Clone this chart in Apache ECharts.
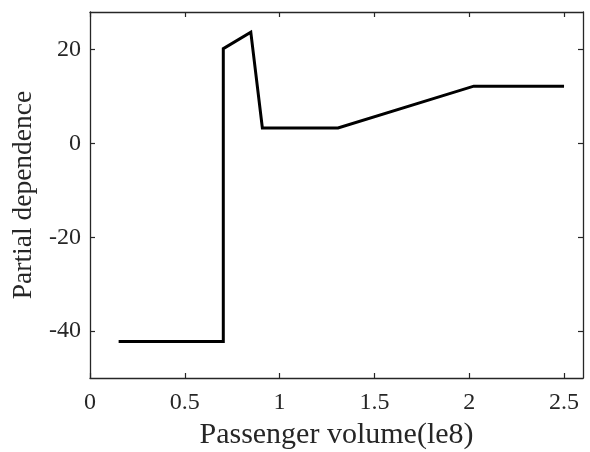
<!DOCTYPE html>
<html><head><meta charset="utf-8">
<script src="https://cdn.jsdelivr.net/npm/echarts@6/dist/echarts.min.js"></script>
<style>html,body{margin:0;padding:0;background:#fff}#c{width:590px;height:452px}</style>
</head><body><div id="c"></div>
<script>
const xValues = [0.151, 0.703, 0.703, 0.848, 0.909, 1.308, 2.024, 2.5];
const yValues = [-42.2, -42.2, 20.2, 23.7, 3.3, 3.3, 12.2, 12.2];
const xTicks = [0, 0.5, 1, 1.5, 2, 2.5];
const yTicks = [-40, -20, 0, 20];
const xTitle = 'Passenger volume(le8)';
const yTitle = 'Partial dependence';

const font = '"Liberation Serif", "Times New Roman", serif';
const chart = echarts.init(document.getElementById('c'), null, {renderer: 'canvas'});
const axLine = {show: true, onZero: false, lineStyle: {color: '#262626', width: 1.3}};
const tick = {show: true, inside: true, length: 5, lineStyle: {color: '#262626', width: 1.2}};
chart.setOption({
  animation: false,
  backgroundColor: '#fff',
  grid: {left: 90, right: 7, top: 12, bottom: 74, containLabel: false, outerBoundsMode: 'none'},
  xAxis: [{
    type: 'value', min: 0, max: 2.6, position: 'bottom',
    axisLine: axLine, axisTick: Object.assign({customValues: xTicks}, tick),
    splitLine: {show: false},
    axisLabel: {customValues: xTicks, color: '#262626', fontFamily: font, fontSize: 24, margin: 13},
    name: xTitle, nameLocation: 'middle', nameGap: 37,
    nameTextStyle: {color: '#262626', fontFamily: font, fontSize: 30}
  }, {
    type: 'value', min: 0, max: 2.6, position: 'top',
    axisLine: axLine, axisTick: Object.assign({customValues: xTicks}, tick),
    splitLine: {show: false}, axisLabel: {show: false}
  }],
  yAxis: [{
    type: 'value', min: -50, max: 28, position: 'left',
    axisLine: axLine, axisTick: Object.assign({customValues: yTicks}, tick),
    splitLine: {show: false},
    axisLabel: {customValues: yTicks, color: '#262626', fontFamily: font, fontSize: 24, margin: 9},
    name: yTitle, nameLocation: 'middle', nameGap: 52,
    nameTextStyle: {color: '#262626', fontFamily: font, fontSize: 27.5}
  }, {
    type: 'value', min: -50, max: 28, position: 'right',
    axisLine: axLine, axisTick: Object.assign({customValues: yTicks}, tick),
    splitLine: {show: false}, axisLabel: {show: false}
  }],
  series: [{
    type: 'line', xAxisIndex: 0, yAxisIndex: 0,
    data: xValues.map((x, i) => [x, yValues[i]]),
    showSymbol: false, symbol: 'none',
    lineStyle: {color: '#000', width: 3, join: 'miter'}
  }]
});
</script></body></html>
